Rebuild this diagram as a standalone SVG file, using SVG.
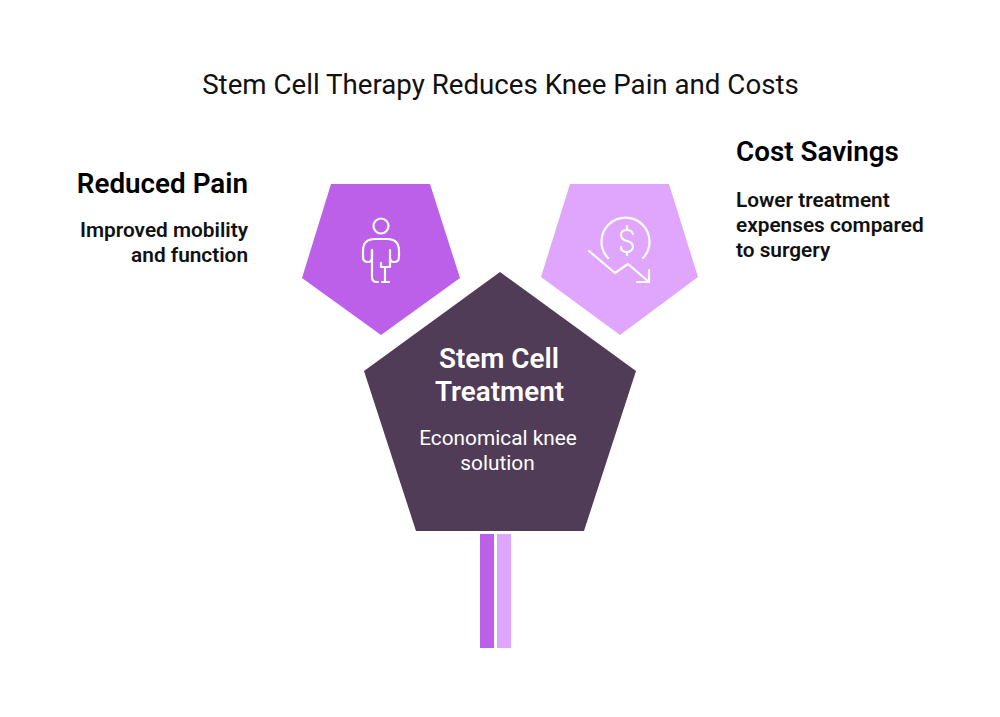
<svg xmlns="http://www.w3.org/2000/svg" width="1000" height="717" viewBox="0 0 1000 717">
<style>
text{font-family:Roboto,"Liberation Sans",sans-serif}
.h{font-size:27.8px;font-weight:600;fill:#000}
.s{font-size:20.8px;font-weight:600;fill:#111}
.ic{fill:none;stroke:#fff;stroke-width:2.2;stroke-linecap:round;stroke-linejoin:round}
</style>
<rect width="1000" height="717" fill="#fff"/>
<text x="500.5" y="94" text-anchor="middle" font-size="27.7" fill="#111">Stem Cell Therapy Reduces Knee Pain and Costs</text>
<g id="stems">
<rect x="480" y="534" width="14" height="114" fill="#bc60ea"/>
<rect x="497" y="534" width="14" height="114" fill="#e0a6fd"/>
</g>
<g id="node-pain">
<polygon points="331,184 430,184 460,278 381,335 302,278" fill="#bc60ea"/>
<g class="ic">
<circle cx="381" cy="226" r="7.5"/>
<path d="M372 250V277Q372 282 377 282H378"/>
<path d="M372 250V258Q372 262 368 262Q363 262 363 257V251Q363 239 375 239H387Q399 239 399 251V257Q399 262 394 262Q390 262 390 258V250"/>
<path d="M390 258V267H381V263M385 267V282M382 282H389"/>
</g>
<text class="h" x="248" y="193" text-anchor="end">Reduced Pain</text>
<text class="s" x="248" y="237" text-anchor="end">Improved mobility</text>
<text class="s" x="248" y="262" text-anchor="end">and function</text>
</g>
<g id="node-cost">
<polygon points="570,184 669,184 698,277 620,335 541,277" fill="#e0a6fd"/>
<g class="ic">
<path d="M608 258A24 24 0 1 1 643 258"/>
<path d="M589 251L615 273L628 264L649 282M649 270V282H637"/>
<path d="M633 234C632 231 630 230 627 230C623 230 621 232 621 235C621 238 623 240 627 241C631 242 633 244 633 247C633 250 630 252 627 252C623 252 621 250 621 247M627 226V230M627 252V255"/>
</g>
<text class="h" x="736" y="160.500">Cost Savings</text>
<text class="s" x="736" y="207">Lower treatment</text>
<text class="s" x="736" y="232">expenses compared</text>
<text class="s" x="736" y="257">to surgery</text>
</g>
<g id="node-treatment">
<polygon points="500,272 636,371 584,531 416,531 364,371" fill="#513c58"/>
<text x="499" y="368" text-anchor="middle" font-size="27.8" font-weight="600" fill="#fff">Stem Cell</text>
<text x="499.500" y="401" text-anchor="middle" font-size="27.800" font-weight="600" fill="#fff">Treatment</text>
<text x="498" y="444.500" text-anchor="middle" font-size="20.8" fill="#fff">Economical knee</text>
<text x="497.500" y="469.500" text-anchor="middle" font-size="20.8" fill="#fff">solution</text>
</g>
</svg>
